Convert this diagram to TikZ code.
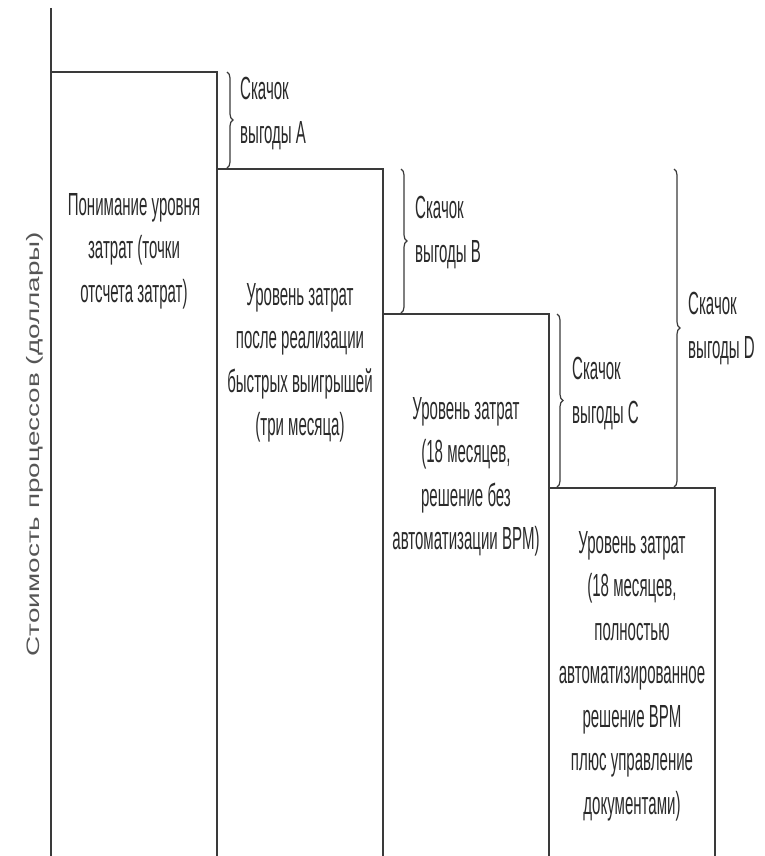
\documentclass[tikz,border=0pt]{standalone}
\usepackage{fontspec}
\setmainfont{Liberation Sans}
\newfontfamily\condfont[FakeStretch=0.47]{Liberation Sans}
\newfontfamily\widefont[FakeStretch=1.55]{Liberation Sans}
\usetikzlibrary{decorations.pathreplacing}
\definecolor{ink}{HTML}{3A3A3A}
\definecolor{txt}{HTML}{2A2A2A}
\definecolor{axistxt}{HTML}{555555}
\tikzset{
  stair/.style={draw=ink, line width=2pt},
  bartext/.style={align=center, inner sep=0pt, text=txt,
    font=\condfont\fontsize{32}{43.5}\selectfont},
  jumptext/.style={align=left, anchor=north west, inner sep=0pt, text=txt,
    font=\condfont\fontsize{32}{44}\selectfont},
  jump/.style={draw=ink, line width=1.2pt,
    decorate, decoration={brace, amplitude=6pt}},
  axislabel/.style={rotate=90, inner sep=0pt, text=axistxt,
    font=\widefont\fontsize{18}{20}\selectfont}
}
\begin{document}
\begin{tikzpicture}[x=1pt, y=-1pt]
\useasboundingbox (0,0) rectangle (765,856);
% corner points of the cost steps
\coordinate (axtop) at (51,8);
\coordinate (axbot) at (51,856);
\coordinate (s1l) at (51,72);
\coordinate (s1r) at (217,72);
\coordinate (s2r) at (383,169);
\coordinate (s3r) at (549,314);
\coordinate (s4r) at (715,488);
\coordinate (b1) at (217,856);
\coordinate (b2) at (383,856);
\coordinate (b3) at (549,856);
\coordinate (b4) at (715,856);
% axis and steps
\draw[stair] (axtop) -- (axbot);
\draw[stair] (s1l) -- (s1r) -- (b1);
\draw[stair] (s1r |- s2r) -- (s2r) -- (b2);
\draw[stair] (s2r |- s3r) -- (s3r) -- (b3);
\draw[stair] (s3r |- s4r) -- (s4r) -- (b4);
% step labels
\node[bartext] (t1) at (134,251) {Понимание уровня\\затрат (точки\\отсчета затрат)};
\node[bartext] (t2) at (300,363) {Уровень затрат\\после реализации\\быстрых выигрышей\\(три месяца)};
\node[bartext] (t3) at (466,477) {Уровень затрат\\(18 месяцев,\\решение без\\автоматизации BPM)};
\node[bartext] (t4) at (632,676) {Уровень затрат\\(18 месяцев,\\полностью\\автоматизированное\\решение BPM\\плюс управление\\документами)};
% braces for the savings jumps
\draw[jump] (227,72) -- (227,168);
\draw[jump] (401,169) -- (401,313);
\draw[jump] (557,314) -- (557,487);
\draw[jump] (674,169) -- (674,487);
\node[jumptext] (ja) at (240,77) {Скачок\\выгоды A};
\node[jumptext] (jb) at (415,196) {Скачок\\выгоды B};
\node[jumptext] (jc) at (572,357) {Скачок\\выгоды C};
\node[jumptext] (jd) at (688,292) {Скачок\\выгоды D};
% vertical axis title
\node[axislabel] (ax) at (35,444) {Стоимость процессов (доллары)};
\end{tikzpicture}
\end{document}
